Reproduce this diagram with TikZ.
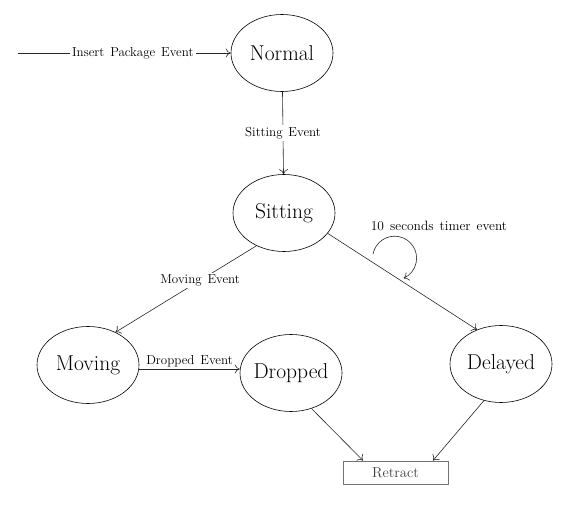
\documentclass[tikz,border=0pt]{standalone}
\usetikzlibrary{arrows.meta,shapes.geometric}
\newcommand\lblfnt{\fontsize{13}{15}\selectfont\spaceskip=0.45em plus 0.1em\relax}
\newcommand\timerfnt{\fontsize{13.5}{15}\selectfont\spaceskip=0.45em plus 0.1em\relax}
\begin{document}
\begin{tikzpicture}[x=1pt,y=-1pt,
  state/.style={draw, ellipse, minimum width=102pt, minimum height=77pt, inner sep=-8pt, line width=0.6pt, font=\fontsize{21.5}{24}\selectfont},
  endbox/.style={draw=black!55, line width=0.9pt, minimum width=105pt, minimum height=23pt, inner sep=0pt, text=black!75, font=\fontsize{14.5}{16}\selectfont},
  trans/.style={-{To[length=5pt,width=9pt]}, line width=0.6pt, draw=black!85},
  lblfont/.style={font=\lblfnt},
  lbl/.style={lblfont, fill=white, inner sep=2pt}]
\useasboundingbox (0,0) rectangle (581,516);
\node[state] (normal) at (282,53) {Normal};
\node[state] (sitting) at (284,213) {Sitting};
\node[state] (moving) at (88,365) {Moving};
\node[state] (dropped) at (291,373) {Dropped};
\node[state] (delayed) at (501,364) {Delayed};
\node[endbox] (retract) at (395.5,472.5) {Retract};
\coordinate (start) at (18,53);
\coordinate (loopstart) at (373,254);
\draw[trans] (start) -- node[lbl, pos=0.54] {Insert Package Event} (normal);
\draw[trans] (normal) -- node[lbl] {Sitting Event} (sitting);
\draw[trans] (sitting.-130) -- node[lbl, pos=0.4] {Moving Event} (moving.50);
\draw[trans] (moving.east |- 0,369) -- node[lblfont, above, inner sep=2pt] {Dropped Event} (dropped.west |- 0,369);
\draw[trans] (sitting.-25) -- (delayed.125);
\node[font=\timerfnt] (timer) at (439,226) {10 seconds timer event};
\draw[trans] (loopstart) arc[start angle=-169, end angle=66, radius=22];
\draw[trans] (dropped.-60) -- (retract.north -| 363,0);
\draw[trans] (delayed.-115) -- (retract.north -| 433,0);
\end{tikzpicture}
\end{document}
